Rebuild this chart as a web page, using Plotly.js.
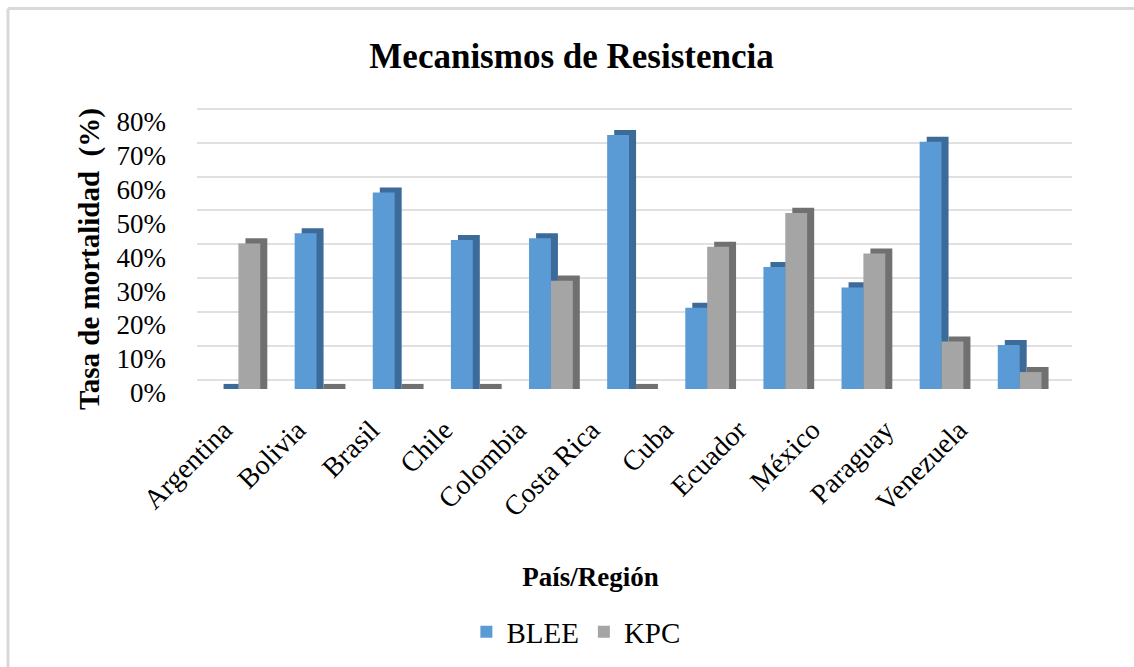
<!DOCTYPE html>
<html>
<head>
<meta charset="utf-8">
<script src="https://cdn.plot.ly/plotly-3.0.1.min.js"></script>
<style>html,body{margin:0;padding:0;background:#fff;}#chart{width:1134px;height:667px;}</style>
</head>
<body>
<div id="chart"></div>
<script>
const categories = ["Argentina","Bolivia","Brasil","Chile","Colombia","Costa Rica","Cuba","Ecuador","México","Paraguay","Venezuela"];
const blee = [0, 0.46, 0.58, 0.44, 0.445, 0.75, 0.24, 0.36, 0.30, 0.73, 0.13];
const kpc  = [0.43, 0, 0, 0, 0.32, 0, 0.42, 0.52, 0.40, 0.14, 0.05];
const seriesNames = ["BLEE", "KPC"];
const yTickVals = [0, 0.1, 0.2, 0.3, 0.4, 0.5, 0.6, 0.7, 0.8];
const yTickText = ["0%","10%","20%","30%","40%","50%","60%","70%","80%"];

const FONT = "'Liberation Serif', 'Times New Roman', serif";
const xIdx = categories.map((_, i) => i);
const BW = 0.28, DX = 0.09, DY = 0.015;
const NB = "\u00a0";

function shadow(vals, off, col) {
  return {type: "bar", x: xIdx, y: vals.map(v => v + DY), base: 0,
    offset: off + DX, width: BW, marker: {color: col, line: {width: 0}},
    showlegend: false, hoverinfo: "skip"};
}
function front(vals, off, col, name) {
  return {type: "bar", x: xIdx, y: vals, name: name,
    offset: off, width: BW, marker: {color: col, line: {width: 0}},
    hovertemplate: "%{y:.0%}<extra>" + name + "</extra>"};
}

const data = [
  shadow(blee, -BW, "#3d6b99"),
  front(blee, -BW, "#5b9bd5", seriesNames[0]),
  shadow(kpc, 0, "#707070"),
  front(kpc, 0, "#a5a5a5", seriesNames[1]),
  // anchor trace for the label/grid axes (wall plane)
  {type: "scatter", mode: "markers", x: [], y: [], xaxis: "x2", yaxis: "y2", showlegend: false, hoverinfo: "skip"}
];

const layout = {
  width: 1134, height: 667,
  margin: {l: 197, r: 62, t: 100, b: 277},
  paper_bgcolor: "#ffffff", plot_bgcolor: "#ffffff",
  font: {family: FONT, color: "#000000", size: 27},
  barmode: "overlay",
  title: {text: "<b>Mecanismos de Resistencia</b>", font: {family: FONT, size: 35, color: "#000"},
          x: 0.504, xref: "container", xanchor: "center", y: 0.917, yref: "container", yanchor: "middle"},
  xaxis: {
    range: [-0.53, 10.67], showticklabels: false,
    showgrid: false, zeroline: false, showline: false, ticks: "",
    title: {text: "<b>País/Región" + NB.repeat(13) + "</b>", font: {family: FONT, size: 27, color: "#000"}, standoff: 178},
    fixedrange: true
  },
  xaxis2: {
    overlaying: "x", anchor: "y2", side: "bottom",
    range: [-0.367, 11.537], tickvals: xIdx, ticktext: categories, tickangle: -45,
    showgrid: false, zeroline: false, showline: false, ticks: "",
    ticklabelstandoff: 18, tickfont: {family: FONT, size: 28, color: "#000"},
    fixedrange: true
  },
  yaxis: {
    range: [0, 0.8535], showticklabels: false,
    showgrid: false, zeroline: false, showline: false, ticks: "",
    fixedrange: true
  },
  yaxis2: {
    overlaying: "y", anchor: "x2", side: "left",
    range: [-0.0274, 0.8261], tickvals: yTickVals, ticktext: yTickText,
    showgrid: true, gridcolor: "#e0e0e0", gridwidth: 2, zeroline: false, showline: false, ticks: "",
    ticklabelstandoff: 30, ticklabelshift: 13, tickfont: {family: FONT, size: 27, color: "#000"},
    title: {text: "<b>Tasa de mortalidad " + NB + "(%)" + NB.repeat(4) + "</b>", font: {family: FONT, size: 29, color: "#000"}, standoff: 8},
    fixedrange: true
  },
  legend: {orientation: "h", x: 0.433, xanchor: "center", y: -0.834, yanchor: "middle",
           font: {family: FONT, size: 29, color: "#000"}, traceorder: "normal"},
  shapes: [
    {type: "line", xref: "paper", yref: "paper", x0: -0.216, x1: 1.1, y0: 1.317, y1: 1.317,
     line: {color: "#d9d9d9", width: 3}, layer: "below"},
    {type: "line", xref: "paper", yref: "paper", x0: -0.216, x1: -0.216, y0: 1.317, y1: -1.0,
     line: {color: "#d9d9d9", width: 3}, layer: "below"}
  ],
  showlegend: true
};

Plotly.newPlot("chart", data, layout, {displayModeBar: false});
</script>
</body>
</html>
